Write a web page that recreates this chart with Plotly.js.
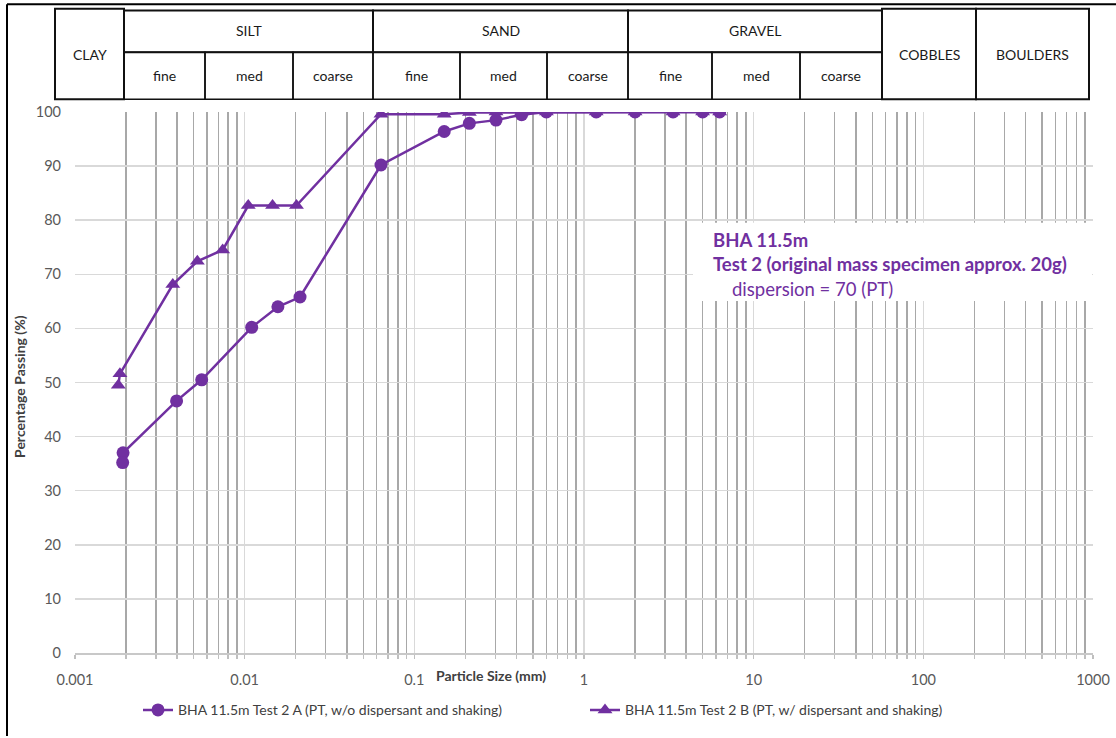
<!DOCTYPE html>
<html>
<head>
<meta charset="utf-8">
<script src="https://cdn.plot.ly/plotly-3.0.1.min.js"></script>
<style>
  html, body { margin: 0; padding: 0; background: #ffffff; }
  #chart { width: 1116px; height: 738px; }
</style>
</head>
<body>
<div id="chart"></div>
<script>
// Particle size distribution, BHA 11.5 m, test 2

// Series A: without dispersant and shaking
const sizeA = [6.3, 5, 3.35, 2, 1.18, 0.6, 0.429, 0.303, 0.211, 0.150, 0.0636, 0.0212, 0.0157, 0.0110, 0.00558, 0.00397, 0.00192, 0.00191];
const passA = [100, 100, 100, 100, 100, 100, 99.5, 98.5, 97.9, 96.4, 90.2, 65.8, 64.0, 60.2, 50.5, 46.6, 37.0, 35.2];

// Series B: with dispersant and shaking
const sizeB = [6.3, 5, 3.35, 2, 1.18, 0.6, 0.429, 0.303, 0.211, 0.150, 0.0636, 0.0202, 0.0146, 0.0105, 0.00742, 0.00526, 0.00377, 0.00184, 0.00180];
const passB = [100, 100, 100, 100, 100, 100, 100, 100, 99.9, 99.6, 99.6, 82.7, 82.7, 82.7, 74.5, 72.4, 68.1, 51.6, 49.5];

const seriesNames = [
  'BHA 11.5m Test 2 A (PT, w/o dispersant and shaking)',
  'BHA 11.5m Test 2 B (PT, w/ dispersant and shaking)'
];

// Axis tick labels
const xTickVals = [0.001, 0.01, 0.1, 1, 10, 100, 1000];
const xTickText = ['0.001', '0.01', '0.1', '1', '10', '100', '1000'];

// Soil classification header
const mainClasses = ['CLAY', 'SILT', 'SAND', 'GRAVEL', 'COBBLES', 'BOULDERS'];
const subClasses = ['fine', 'med', 'coarse'];

const infoLines = ['BHA 11.5m', 'Test 2 (original mass specimen approx. 20g)', 'dispersion = 70 (PT)'];

// ---- page geometry (pixels) ----
const W = 1116, H = 738;
const M = { l: 75, r: 23, t: 112, b: 79 };
const plotW = W - M.l - M.r, plotH = H - M.t - M.b;
const px = x => (x - M.l) / plotW;          // pixel x -> paper x
const py = y => (H - M.b - y) / plotH;      // pixel y -> paper y

const PURPLE = '#7030A0';
const FONT = 'Lato, "Open Sans", sans-serif';

// header cell layout in pixels
const mainCells = [
  { x0: 55,  x1: 124,  y0: 7.5, y1: 99, subs: null },
  { x0: 124, x1: 373,  y0: 9.5, y1: 51.5, subs: [124, 205, 293, 373] },
  { x0: 373, x1: 628,  y0: 9.5, y1: 51.5, subs: [373, 460, 547, 628] },
  { x0: 628, x1: 882,  y0: 9.5, y1: 51.5, subs: [628, 712, 800, 882] },
  { x0: 882, x1: 976,  y0: 7.5, y1: 99, subs: null },
  { x0: 976, x1: 1089, y0: 7.5, y1: 99, subs: null }
];
const subRow = { y0: 51.5, y1: 99 };

const shapes = [];
const annotations = [];

function label(xPix, yPix, text, font, extra) {
  return Object.assign({
    xref: 'paper', yref: 'paper', x: px(xPix), y: py(yPix),
    xanchor: 'center', yanchor: 'middle', showarrow: false, text: text, font: font
  }, extra || {});
}

// outer chart frame (top and left edges)
shapes.push({ type: 'line', xref: 'paper', yref: 'paper', x0: px(7), x1: px(W + 5), y0: py(3), y1: py(3), line: { color: '#000', width: 2 } });
shapes.push({ type: 'line', xref: 'paper', yref: 'paper', x0: px(7), x1: px(7), y0: py(3), y1: py(H + 5), line: { color: '#000', width: 2 } });

const headFont = { family: FONT, size: 14, color: '#1a1a1a' };
mainCells.forEach((c, i) => {
  shapes.push({ type: 'rect', xref: 'paper', yref: 'paper', x0: px(c.x0), x1: px(c.x1), y0: py(c.y1), y1: py(c.y0),
    line: { color: '#111', width: 2 }, fillcolor: 'rgba(0,0,0,0)' });
  annotations.push(label((c.x0 + c.x1) / 2, c.subs ? 30 : 54, mainClasses[i], headFont));
  if (c.subs) {
    for (let k = 0; k < 3; k++) {
      const a = c.subs[k], b = c.subs[k + 1];
      shapes.push({ type: 'rect', xref: 'paper', yref: 'paper', x0: px(a), x1: px(b), y0: py(subRow.y1), y1: py(subRow.y0),
        line: { color: '#111', width: 1.5 }, fillcolor: 'rgba(0,0,0,0)' });
      annotations.push(label((a + b) / 2, 75.5, subClasses[k], headFont));
    }
  }
});

// white panel behind the test description
shapes.push({ type: 'rect', xref: 'paper', yref: 'paper', layer: 'above',
  x0: px(693), x1: px(1092), y0: py(303), y1: py(224), line: { width: 0 }, fillcolor: '#ffffff' });

const infoBold = { family: FONT, size: 18.5, color: PURPLE, weight: 700 };
const infoReg = { family: FONT, size: 18.5, color: PURPLE };
annotations.push(label(711, 241, '<b>' + infoLines[0] + '</b>', infoBold, { xanchor: 'left' }));
annotations.push(label(711, 266, '<b>' + infoLines[1] + '</b>', infoBold, { xanchor: 'left' }));
annotations.push(label(730, 291, infoLines[2], infoReg, { xanchor: 'left' }));

// axis titles
const titleFont = { family: FONT, size: 14, color: '#404040' };
annotations.push(label(491, 682, '<b>Particle Size (mm)</b>', titleFont));
annotations.push(label(20, 390, '<b>Percentage Passing (%)</b>', titleFont, { textangle: -90 }));

const traces = [
  { x: sizeA, y: passA, name: seriesNames[0], type: 'scatter', mode: 'lines+markers',
    line: { color: PURPLE, width: 2.5 }, marker: { symbol: 'circle', size: 13, color: PURPLE } },
  { x: sizeB, y: passB, name: seriesNames[1], type: 'scatter', mode: 'lines+markers',
    line: { color: PURPLE, width: 2.5 }, marker: { symbol: 'triangle-up', size: 13, color: PURPLE } }
];
// circles drawn on top of triangles
const data = [traces[1], traces[0]];
data[0].legendrank = 2;
data[1].legendrank = 1;

const layout = {
  width: W, height: H,
  margin: M,
  paper_bgcolor: '#ffffff', plot_bgcolor: '#ffffff',
  font: { family: FONT, size: 14, color: '#595959' },
  showlegend: true,
  legend: {
    orientation: 'h', x: px(138), xanchor: 'left', y: py(717), yanchor: 'middle',
    font: { family: FONT, size: 14, color: '#404040' },
    entrywidth: 402, entrywidthmode: 'pixels', traceorder: 'normal'
  },
  xaxis: {
    type: 'log', range: [-3, 3],
    tickmode: 'array', tickvals: xTickVals, ticktext: xTickText,
    showgrid: true, gridcolor: '#d9d9d9', gridwidth: 1.5,
    ticks: 'outside', ticklen: 4, tickcolor: '#bfbfbf', tickwidth: 1.5,
    ticklabelstandoff: 9,
    showline: true, linecolor: '#c8c8c8', linewidth: 1.5,
    zeroline: false,
    minor: { dtick: 'D1', showgrid: true, gridcolor: '#a8a8a8', gridwidth: 1.5, ticks: 'outside', ticklen: 4, tickcolor: '#bfbfbf', tickwidth: 1.5 },
    tickfont: { family: FONT, size: 14.5, color: '#595959' },
    fixedrange: true
  },
  yaxis: {
    range: [0, 100], dtick: 10, tick0: 0,
    showgrid: true, gridcolor: '#d9d9d9', gridwidth: 1.5,
    zeroline: false, showline: false, ticks: '',
    ticklabelstandoff: 13,
    tickfont: { family: FONT, size: 14.5, color: '#595959' },
    fixedrange: true
  },
  shapes: shapes,
  annotations: annotations
};

Plotly.newPlot('chart', data, layout, { displayModeBar: false, staticPlot: true });
</script>
</body>
</html>
